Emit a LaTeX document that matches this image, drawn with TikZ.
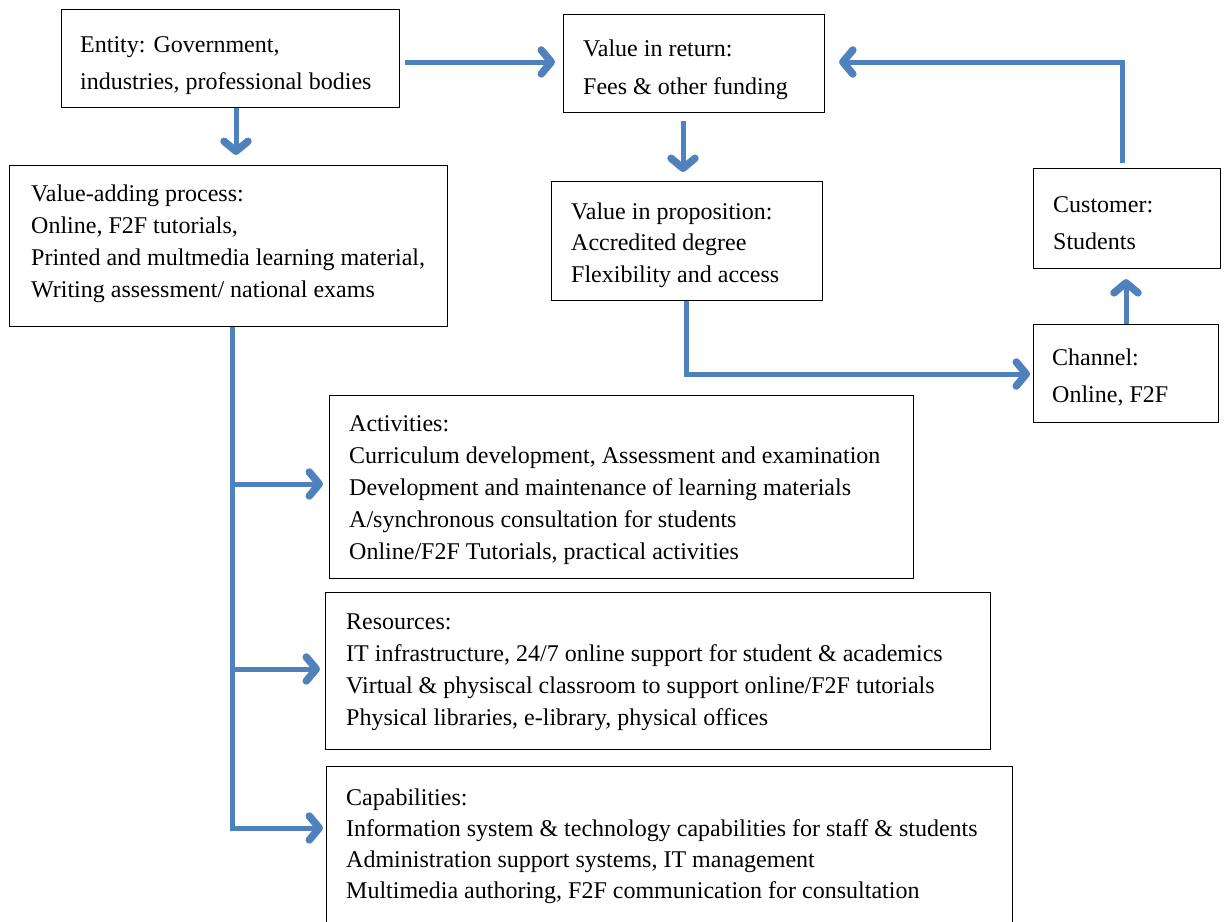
\documentclass[tikz,border=0pt]{standalone}
\usepackage{fontspec}
\setmainfont{Liberation Serif}
\usetikzlibrary{arrows.meta}
\definecolor{flowblue}{HTML}{4F81BD}
\begin{document}
\begin{tikzpicture}[x=1pt,y=-1pt,
  box/.style={draw=black, line width=1.1pt, anchor=north west, inner sep=0pt},
  txt/.style={anchor=west, align=left, inner sep=0pt,
    font=\fontsize{24}{32}\selectfont},
  flow/.style={draw=flowblue, line width=5pt,
    -{Straight Barb[length=10pt,width=24pt,line width=7.5pt,round]}},
  trunk/.style={draw=flowblue, line width=5pt}]
\useasboundingbox (0,0) rectangle (1226,921);

% frames
\node[box, minimum width=338pt, minimum height=98pt]  (entity) at (61,9) {};
\node[box, minimum width=261pt, minimum height=98pt]  (ret)    at (563,14) {};
\node[box, minimum width=438pt, minimum height=161pt] (vap)    at (9,165) {};
\node[box, minimum width=271pt, minimum height=119pt] (prop)   at (551,181) {};
\node[box, minimum width=187pt, minimum height=100pt] (cust)   at (1033,168) {};
\node[box, minimum width=185pt, minimum height=98pt]  (chan)   at (1033,324) {};
\node[box, minimum width=584pt, minimum height=183pt] (act)    at (329,395) {};
\node[box, minimum width=665pt, minimum height=157pt] (res)    at (325,592) {};
\node[box, minimum width=686pt, minimum height=170pt] (cap)    at (326,766) {};

% texts (shifts are in page units: negative yshift moves down)
\node[txt, font=\fontsize{24}{37}\selectfont] (entityT) at ([xshift=19pt,yshift=-7pt]entity.west)
  {Entity: Government,\\industries, professional bodies};
\node[txt, font=\fontsize{24}{38}\selectfont] (retT) at ([xshift=20pt,yshift=-6pt]ret.west)
  {Value in return:\\Fees \& other funding};
\node[txt] (vapT) at ([xshift=22pt,yshift=2pt]vap.west)
  {Value-adding process:\\Online, F2F tutorials,\\Printed and multmedia learning material,\\Writing assessment/ national exams};
\node[txt, font=\fontsize{24}{31.5}\selectfont] (propT) at ([xshift=20pt,yshift=-4pt]prop.west)
  {Value in proposition:\\Accredited degree\\Flexibility and access};
\node[txt, font=\fontsize{24}{37}\selectfont] (custT) at ([xshift=20pt,yshift=-5pt]cust.west)
  {Customer:\\Students};
\node[txt, font=\fontsize{24}{37}\selectfont] (chanT) at ([xshift=19pt,yshift=-4pt]chan.west)
  {Channel:\\Online, F2F};
\node[txt] (actT) at ([xshift=20pt,yshift=-3pt]act.west)
  {Activities:\\Curriculum development, Assessment and examination\\Development and maintenance of learning materials\\A/synchronous consultation for students\\Online/F2F Tutorials, practical activities};
\node[txt] (resT) at ([xshift=21pt,yshift=-1pt]res.west)
  {Resources:\\IT infrastructure, 24/7 online support for student \& academics\\Virtual \& physiscal classroom to support online/F2F tutorials\\Physical libraries, e-library, physical offices};
\node[txt, font=\fontsize{24}{31}\selectfont] (capT) at ([xshift=20pt,yshift=5pt]cap.west)
  {Capabilities:\\Information system \& technology capabilities for staff \& students\\Administration support systems, IT management\\Multimedia authoring, F2F communication for consultation};

% connectors
\draw[flow] (entity.east |- 0,62) ++(5,0) -- ([xshift=-8pt]ret.west |- 0,62);
\draw[flow] (entity.south -| 236,0) -- ([yshift=10pt]vap.north -| 236,0);
\draw[flow] ([yshift=-8pt]ret.south -| 683,0) -- ([yshift=9pt]prop.north -| 683,0);
\draw[flow] (prop.south -| 686,0) |- ([xshift=-3pt]chan.west |- 0,374);
\draw[flow] (chan.north -| 1126,0) -- ([yshift=-10pt]cust.south -| 1126,0);
\draw[flow] ([yshift=5pt]cust.north -| 1122,0) |- ([xshift=14pt]ret.east |- 0,62);

% value-adding process branches
\draw[trunk] (vap.south -| 232,0) -- (232,830);
\draw[flow] (230,484) -- ([xshift=-6pt]act.west |- 0,484);
\draw[flow] (230,669) -- ([xshift=-5pt]res.west |- 0,669);
\draw[flow] (230,828) -- ([xshift=-3pt]cap.west |- 0,828);
\end{tikzpicture}
\end{document}
